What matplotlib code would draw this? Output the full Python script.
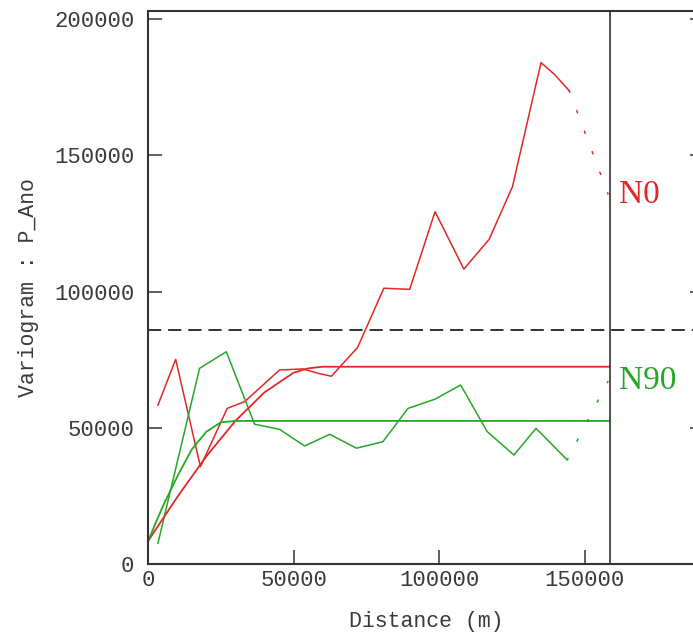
import matplotlib
matplotlib.use("Agg")
import matplotlib.pyplot as plt

# experimental variogram N0 (last segment is drawn dotted)
n0_dist = [3400, 9500, 18000, 27200, 33200, 45200, 53200, 58400, 63000, 72000,
           81000, 89900, 98600, 108500, 117200, 125200, 135000, 139600, 144700, 158100]
n0_gamma = [58300, 75100, 35700, 57100, 59600, 71200, 71600, 70000, 68900, 79500,
            101200, 100800, 129300, 108200, 119200, 138500, 184000, 179700, 173700, 135600]

# experimental variogram N90
n90_dist = [3400, 17700, 26900, 36600, 45200, 53800, 62400, 71600, 80700, 89300,
            98600, 107400, 116500, 125700, 133300, 144000, 158100]
n90_gamma = [7600, 71800, 77900, 51300, 49400, 43300, 47600, 42500, 44900, 57100,
             60500, 65700, 48600, 40000, 49800, 38200, 67200]

# fitted models
n0_model_dist = [0, 10000, 20000, 30000, 40000, 50000, 55000, 60000, 158600]
n0_model_gamma = [8400, 24500, 39500, 52500, 63000, 70200, 71800, 72400, 72400]
n90_model_dist = [0, 5000, 10000, 15000, 20000, 25000, 30000, 158600]
n90_model_gamma = [8400, 21000, 32000, 42000, 48500, 52000, 52500, 52500]

variance = 86000
max_dist = 158600

red = '#e02828'
green = '#26a826'
mono = 'Liberation Mono'
dotted = (0.9, (2.5, 13.3))

plt.rcParams['lines.scale_dashes'] = False
fig = plt.figure(figsize=(6.93, 6.35), dpi=100)
ax = fig.add_axes([0.2136, 0.1118, 0.8023, 0.8709])

ax.plot(n0_dist[:-1], n0_gamma[:-1], color=red, lw=1.1)
ax.plot(n0_dist[-2:], n0_gamma[-2:], color=red, lw=1.1, linestyle=dotted)
ax.plot(n90_dist[:-1], n90_gamma[:-1], color=green, lw=1.1)
ax.plot(n90_dist[-2:], n90_gamma[-2:], color=green, lw=1.1, linestyle=dotted)

ax.plot(n0_model_dist, n0_model_gamma, color=red, lw=1.3)
ax.plot(n90_model_dist, n90_model_gamma, color=green, lw=1.3)

ax.axhline(variance, color='#222222', lw=1.3, linestyle=(0, (9.5, 5)))
ax.axvline(max_dist, color='#333333', lw=1.2)

ax.text(161800, n0_gamma[-1], 'N0', color=red, fontsize=24,
        family='Liberation Serif', va='center', ha='left')
ax.text(161800, n90_gamma[-1], 'N90', color=green, fontsize=24,
        family='Liberation Serif', va='center', ha='left')

ax.set_xlim(0, 191000)
ax.set_ylim(0, 202950)
ax.set_xticks([0, 50000, 100000, 150000])
ax.set_yticks([0, 50000, 100000, 150000, 200000])
ax.tick_params(direction='in', length=10, width=1.1, top=False, right=True,
               labelsize=16, labelcolor='#3a3a3a', colors='#333333')
ax.tick_params(axis='x', pad=4)
ax.tick_params(axis='y', pad=10)
for lab in ax.get_xticklabels() + ax.get_yticklabels():
    lab.set_family(mono)
for s in ax.spines.values():
    s.set_linewidth(1.5)
    s.set_color('#333333')

ax.set_xlabel('Distance (m)', family=mono, fontsize=15.5, color='#3a3a3a', labelpad=15)
ax.set_ylabel('Variogram : P_Ano', family=mono, fontsize=15.5, color='#3a3a3a', labelpad=11)

fig.savefig('out.png', dpi=100)
